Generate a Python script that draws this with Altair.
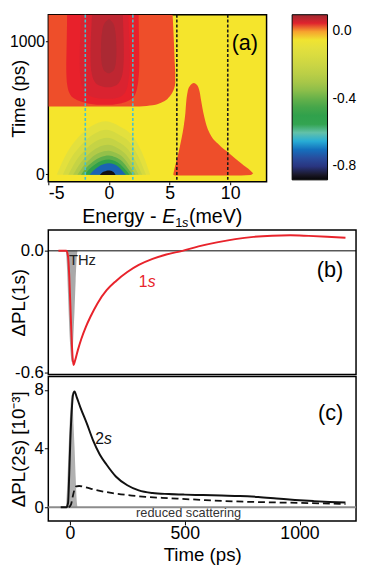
import altair as alt
import pandas as pd

FONT = "Liberation Sans"

# ================= Panel (a): contour map =================
E_TICKS = [-5, 0, 5, 10]
T_TICKS = [0, 1000]
CBAR_TICKS = [0.0, -0.4, -0.8]

LEVEL_VALUES = [-0.88, -0.86, -0.82, -0.76, -0.71, -0.67, -0.64, -0.60, -0.55, -0.48,
                -0.41, -0.34, -0.28, -0.22, -0.16, -0.10, -0.03, -0.01, 0.005, 0.015,
                0.04, 0.055, 0.07, 0.085, 0.10]
LEVEL_COLORS = ["#050505", "#111111", "#272C74", "#2A4798", "#1B63B3", "#0F96D6", "#3DB7D3",
                "#62C1A9", "#33A451", "#2FA04A", "#5DAE4A", "#94C04A", "#B2CA48", "#C5D345",
                "#D5DA41", "#E3E03D", "#F5E52C", "#F7D23A", "#F28A30", "#EE4E2A", "#E8212B",
                "#DA2330", "#BF2631", "#AB2933", "#9E2A30"]
BACKGROUND_FILL = "#F5E52C"

# positive (orange) region at late times, left of E ~ 5.4 meV
TOP_T = [510, 520, 535, 555, 580, 610, 645, 690, 760, 850, 950, 1050, 1150, 1200]
TOP_R = [2.5, 3.6, 4.2, 4.65, 4.95, 5.2, 5.38, 5.47, 5.47, 5.42, 5.38, 5.33, 5.28, 5.25]
TOP_V = 0.015

RED_T = [523, 530, 540, 555, 575, 610, 660, 730, 820, 920, 1020, 1120, 1200]
RED_L = [-1.0, -1.6, -2.05, -2.55, -2.95, -3.25, -3.42, -3.5, -3.52, -3.5, -3.48, -3.46, -3.45]
RED_R = [0.3, 0.8, 1.25, 1.65, 1.97, 2.2, 2.35, 2.45, 2.5, 2.5, 2.48, 2.46, 2.45]
RED_V = 0.04

DK1_T = [568, 580, 600, 640, 700, 780, 870, 970, 1070, 1200]
DK1_L = [-0.6, -1.3, -1.75, -2.1, -2.3, -2.4, -2.42, -2.4, -2.35, -2.3]
DK1_R = [0.3, 0.85, 1.2, 1.45, 1.6, 1.7, 1.72, 1.7, 1.65, 1.6]
DK1_V = 0.055

DK2_T = [655, 670, 700, 750, 820, 900, 1000, 1100, 1200]
DK2_L = [-0.3, -0.85, -1.2, -1.4, -1.5, -1.52, -1.5, -1.45, -1.4]
DK2_R = [0.15, 0.6, 0.9, 1.1, 1.2, 1.23, 1.22, 1.18, 1.15]
DK2_V = 0.07

DK3_T = [760, 775, 800, 850, 920, 1000, 1080, 1130, 1165]
DK3_L = [-0.1, -0.35, -0.5, -0.62, -0.66, -0.64, -0.55, -0.4, -0.05]
DK3_R = [0.05, 0.32, 0.48, 0.58, 0.62, 0.6, 0.52, 0.38, 0.05]
DK3_V = 0.085

# orange lobe at E ~ 5-12 meV
SIDE_E = [5.3, 5.45, 5.65, 5.83, 5.99, 6.17, 6.3, 6.38, 6.49, 6.7, 7.0, 7.3, 7.48, 7.61, 7.8,
          8.06, 8.4, 9.06, 9.98, 10.9, 11.7, 11.9]
SIDE_HI = [0, 60, 130, 201, 271, 364, 458, 551, 621, 668, 687, 668, 621, 551, 458, 364, 294,
           224, 154, 84, 26, 8]
SIDE_LO = [0, -8, -9, -9, -9, -9, -9, -9, -9, -9, -9, -9, -9, -9, -9, -9, -9, -9, -9, -8, -4, 8]
SIDE_V = 0.015

# negative bell around E = 0, t ~ 0 (outer -> inner)
BELL1_E = [-4.3, -3.65, -2.6, -1.4, -0.25, 0.9, 2.1, 2.88, 3.4]
BELL1_T = [-3, 131, 271, 365, 400, 360, 271, 131, -3]
BELL2_E = [-3.8, -3.2, -2.25, -1.2, -0.2, 0.8, 1.85, 2.55, 3.05]
BELL2_T = [-3, 110, 225, 305, 335, 300, 225, 110, -3]
BELL3_E = [-3.35, -2.8, -1.95, -1.05, -0.15, 0.7, 1.6, 2.25, 2.75]
BELL3_T = [-3, 90, 185, 250, 275, 248, 185, 90, -3]
BELL4_E = [-2.95, -2.45, -1.7, -0.9, -0.1, 0.65, 1.4, 2.0, 2.45]
BELL4_T = [-3, 72, 150, 202, 222, 200, 150, 72, -3]
BELL5_E = [-2.6, -2.15, -1.5, -0.8, -0.05, 0.6, 1.25, 1.75, 2.2]
BELL5_T = [-3, 58, 120, 162, 178, 160, 120, 58, -3]
BELL6_E = [-2.3, -1.9, -1.3, -0.7, 0.0, 0.55, 1.1, 1.55, 1.95]
BELL6_T = [-3, 46, 96, 129, 142, 128, 96, 46, -3]
BELL7_E = [-2.0, -1.65, -1.15, -0.6, 0.0, 0.5, 0.95, 1.35, 1.7]
BELL7_T = [-3, 36, 75, 102, 112, 101, 75, 36, -3]
BELL8_E = [-1.6, -1.3, -0.9, -0.45, 0.0, 0.42, 0.8, 1.1, 1.4]
BELL8_T = [-3, 27, 56, 76, 84, 76, 56, 27, -3]
BELL9_E = [-0.75, -0.6, -0.4, -0.2, -0.05, 0.15, 0.3, 0.45, 0.55]
BELL9_T = [-5, 10, 21, 28, 30, 28, 21, 10, -5]
BELL_VALUES = [-0.10, -0.16, -0.22, -0.28, -0.34, -0.41, -0.48, -0.71, -0.86]

CYAN_E = [-1.95, 1.97]
BLACK_E = [5.6, 9.8]

# ================= Panel (b): Delta PL(1s) =================
PL1S_T = [-50, -15, -8, -3, 2, 7, 12, 16, 22, 35, 50, 70, 90, 120, 160, 200, 250, 300, 360,
          420, 490, 560, 640, 720, 800, 880, 960, 1040, 1120, 1200]
PL1S_V = [0, 0, -0.03, -0.12, -0.27, -0.42, -0.53, -0.565, -0.545, -0.49, -0.435, -0.375,
          -0.325, -0.26, -0.195, -0.15, -0.105, -0.07, -0.04, -0.018, 0.0, 0.022, 0.042,
          0.058, 0.069, 0.075, 0.077, 0.074, 0.07, 0.065]
THZ_T = [-17, -12, -7, -2, 3, 8, 12, 16, 20, 25, 30, 33]
THZ_B = [0, -0.1, -0.25, -0.4, -0.5, -0.55, -0.5, -0.4, -0.3, -0.15, -0.03, 0]

# ================= Panel (c): Delta PL(2s) =================
PL2S_T = [-40, -15, -8, -3, 2, 8, 14, 20, 30, 46, 74, 100, 130, 160, 200, 250, 300, 360, 430,
          500, 580, 660, 740, 820, 900, 980, 1060, 1130, 1200]
PL2S_V = [0, 0, 0.3, 2.2, 4.6, 6.6, 7.7, 7.9, 7.5, 6.8, 5.7, 4.6, 3.6, 2.9, 2.1, 1.5, 1.15,
          0.97, 0.9, 0.86, 0.83, 0.8, 0.77, 0.7, 0.6, 0.5, 0.42, 0.36, 0.32]
RED_SCAT_T = [-5, 5, 12, 20, 28, 40, 70, 116, 186, 270, 330, 434, 574, 714, 854, 994, 1100, 1200]
RED_SCAT_V = [0, 0.2, 0.7, 1.2, 1.42, 1.45, 1.35, 1.17, 0.96, 0.8, 0.71, 0.62, 0.5, 0.4, 0.34,
              0.3, 0.26, 0.22]
THZ_C = [0, 1.4, 3.4, 5.4, 6.9, 7.7, 7.0, 5.6, 4.2, 2.1, 0.4, 0]

B_TICKS_Y = [0.0, -0.6]
C_TICKS_Y = [0, 4, 8]
TIME_TICKS = [0, 500, 1000]

# ================= layout =================
W_A, H_A = 222, 170
W_B, H_B, H_C = 313, 147, 147

NEG_INT = "datum.value < 0 ? '-' + format(-datum.value, 'd') : format(datum.value, 'd')"
NEG_1F = "datum.value < 0 ? '-' + format(-datum.value, '.1f') : format(datum.value, '.1f')"

xa_scale = alt.Scale(domain=[-5, 13], nice=False, zero=False)
ya_scale = alt.Scale(domain=[-56, 1200], nice=False, zero=False)
xa_axis = alt.Axis(values=E_TICKS, title=None, labelExpr=NEG_INT, labelFontSize=18,
                   tickSize=3, labelPadding=0)
ya_axis = alt.Axis(values=T_TICKS, title="Time (ps)", labelExpr=NEG_INT, labelFontSize=16,
                   tickSize=3, labelPadding=1, titlePadding=0, minExtent=20, maxExtent=20,
                   titleFontSize=19, titleFontWeight="normal")
color_a = alt.Color(
    "v:Q",
    scale=alt.Scale(domain=LEVEL_VALUES, range=LEVEL_COLORS),
    legend=alt.Legend(title=None, orient="right", offset=26, direction="vertical",
                      type="gradient", gradientLength=H_A - 2, gradientThickness=36,
                      values=CBAR_TICKS, labelExpr=NEG_1F, labelFontSize=14, labelOffset=5,
                      labelFont=FONT, labelColor="black", gradientStrokeColor="black",
                      gradientStrokeWidth=1, padding=0),
)


def hband(t, left, right, v):
    df = pd.DataFrame({"t": t, "l": left, "r": right, "v": [v] * len(t)})
    return alt.Chart(df).mark_area(orient="horizontal", interpolate="monotone", clip=True).encode(
        y=alt.Y("t:Q", scale=ya_scale, axis=ya_axis),
        x=alt.X("l:Q", scale=xa_scale, axis=xa_axis),
        x2="r:Q",
        color=color_a,
    )


def bell(e, t, v, base):
    df = pd.DataFrame({"E": e, "t": t, "v": [v] * len(e)})
    return alt.Chart(df).mark_area(interpolate="monotone", clip=True).encode(
        x=alt.X("E:Q", scale=xa_scale, axis=xa_axis),
        y=alt.Y("t:Q", scale=ya_scale, axis=ya_axis),
        y2=alt.datum(base),
        color=color_a,
    )


top_df = pd.DataFrame({"t": TOP_T, "r": TOP_R, "v": [TOP_V] * len(TOP_T)})
top_layer = alt.Chart(top_df).mark_area(orient="horizontal", interpolate="monotone", clip=True).encode(
    y=alt.Y("t:Q", scale=ya_scale, axis=ya_axis),
    x=alt.X("r:Q", scale=xa_scale, axis=xa_axis),
    x2=alt.datum(-5),
    color=color_a,
)

side_df = pd.DataFrame({"E": SIDE_E, "lo": SIDE_LO, "hi": SIDE_HI, "v": [SIDE_V] * len(SIDE_E)})
side_layer = alt.Chart(side_df).mark_area(interpolate="monotone", clip=True).encode(
    x=alt.X("E:Q", scale=xa_scale, axis=xa_axis),
    y=alt.Y("lo:Q", scale=ya_scale, axis=ya_axis),
    y2="hi:Q",
    color=color_a,
)

bells = [
    bell(BELL1_E, BELL1_T, BELL_VALUES[0], -3),
    bell(BELL2_E, BELL2_T, BELL_VALUES[1], -3),
    bell(BELL3_E, BELL3_T, BELL_VALUES[2], -3),
    bell(BELL4_E, BELL4_T, BELL_VALUES[3], -3),
    bell(BELL5_E, BELL5_T, BELL_VALUES[4], -3),
    bell(BELL6_E, BELL6_T, BELL_VALUES[5], -3),
    bell(BELL7_E, BELL7_T, BELL_VALUES[6], -3),
    bell(BELL8_E, BELL8_T, BELL_VALUES[7], -3),
    bell(BELL9_E, BELL9_T, BELL_VALUES[8], -5),
]

cyan_rules = alt.Chart(pd.DataFrame({"E": CYAN_E})).mark_rule(
    color="#45C1D0", strokeDash=[3, 2], strokeWidth=1.6).encode(
    x=alt.X("E:Q", scale=xa_scale, axis=xa_axis))
black_rules = alt.Chart(pd.DataFrame({"E": BLACK_E})).mark_rule(
    color="#1a1a1a", strokeDash=[3, 2], strokeWidth=1.6).encode(
    x=alt.X("E:Q", scale=xa_scale, axis=xa_axis))


def label_text(txt, **mark):
    return alt.Chart(pd.DataFrame({"label": [txt]})).mark_text(font=FONT, **mark)


a_tag = label_text("(a)", align="right", baseline="alphabetic", fontSize=22, color="black").encode(
    text="label:N", x=alt.datum(12.3), y=alt.datum(935))

C = W_A / 2
YT = H_A + 42
title_parts = [
    label_text("Energy -", align="right", baseline="alphabetic", fontSize=20, color="black").encode(
        text="label:N", x=alt.value(C - 1), y=alt.value(YT)),
    label_text("E", align="left", baseline="alphabetic", fontSize=20, fontStyle="italic",
               color="black").encode(text="label:N", x=alt.value(C + 5), y=alt.value(YT)),
    label_text("1", align="left", baseline="alphabetic", fontSize=13, color="black").encode(
        text="label:N", x=alt.value(C + 18), y=alt.value(YT + 4)),
    label_text("s", align="left", baseline="alphabetic", fontSize=13, fontStyle="italic",
               color="black").encode(text="label:N", x=alt.value(C + 25), y=alt.value(YT + 4)),
    label_text("(meV)", align="left", baseline="alphabetic", fontSize=20, color="black").encode(
        text="label:N", x=alt.value(C + 32), y=alt.value(YT)),
]

panel_a = alt.layer(
    top_layer,
    hband(RED_T, RED_L, RED_R, RED_V),
    hband(DK1_T, DK1_L, DK1_R, DK1_V),
    hband(DK2_T, DK2_L, DK2_R, DK2_V),
    hband(DK3_T, DK3_L, DK3_R, DK3_V),
    side_layer,
    *bells,
    cyan_rules,
    black_rules,
    a_tag,
    *title_parts,
).properties(width=W_A, height=H_A,
             view=alt.ViewBackground(fill=BACKGROUND_FILL, stroke="black", strokeWidth=1.5))

# ================= Panel (b) =================
xt_scale = alt.Scale(domain=[-94, 1246], nice=False, zero=False)
yb_scale = alt.Scale(domain=[-0.612, 0.103], nice=False, zero=False)
yb_axis = alt.Axis(values=B_TICKS_Y, labelExpr=NEG_1F, title="ΔPL(1s)", labelFontSize=17,
                   tickSize=4, labelPadding=1, titlePadding=0, minExtent=20, maxExtent=20,
                   titleFontSize=19, titleFontWeight="normal")

thz_b = alt.Chart(pd.DataFrame({"t": THZ_T, "v": THZ_B})).mark_area(
    color="#A9A9A9", interpolate="monotone").encode(
    x=alt.X("t:Q", scale=xt_scale, axis=None),
    y=alt.Y("v:Q", scale=yb_scale, axis=yb_axis),
    y2=alt.datum(0))
zero_b = alt.Chart(pd.DataFrame({"v": [0.0]})).mark_rule(color="black", strokeWidth=1).encode(
    y=alt.Y("v:Q", scale=yb_scale, axis=yb_axis))
line_1s = alt.Chart(pd.DataFrame({"t": PL1S_T, "v": PL1S_V})).mark_line(
    color="#E8232B", strokeWidth=2, interpolate="monotone").encode(
    x=alt.X("t:Q", scale=xt_scale, axis=None),
    y=alt.Y("v:Q", scale=yb_scale, axis=yb_axis))
thz_txt = label_text("THz", align="left", baseline="alphabetic", fontSize=15, color="#222222").encode(
    text="label:N", x=alt.datum(-4), y=alt.datum(-0.072))
one_txt = label_text("1", align="left", baseline="alphabetic", fontSize=16, color="#E8232B").encode(
    text="label:N", x=alt.datum(300), y=alt.datum(-0.178))
s1_txt = label_text("s", align="left", baseline="alphabetic", fontSize=16, fontStyle="italic",
                    color="#E8232B", dx=9).encode(
    text="label:N", x=alt.datum(300), y=alt.datum(-0.178))
b_tag = label_text("(b)", align="right", baseline="alphabetic", fontSize=22, color="black").encode(
    text="label:N", x=alt.datum(1190), y=alt.datum(-0.128))

panel_b = alt.layer(thz_b, zero_b, line_1s, thz_txt, one_txt, s1_txt, b_tag).properties(
    width=W_B, height=H_B, view=alt.ViewBackground(fill="white", stroke="black", strokeWidth=1.5))

# ================= Panel (c) =================
yc_scale = alt.Scale(domain=[-0.94, 8.92], nice=False, zero=False)
yc_axis = alt.Axis(values=C_TICKS_Y, labelExpr=NEG_INT, title="ΔPL(2s) [10⁻³]", labelFontSize=17,
                   tickSize=4, labelPadding=1, titlePadding=0, minExtent=20, maxExtent=20,
                   titleFontSize=19, titleFontWeight="normal")
xc_axis = alt.Axis(values=TIME_TICKS, labelExpr=NEG_INT, title="Time (ps)", labelFontSize=18,
                   tickSize=4, labelPadding=0, titlePadding=3, titleFontSize=19,
                   titleFontWeight="normal")

thz_c = alt.Chart(pd.DataFrame({"t": THZ_T, "v": THZ_C})).mark_area(
    color="#B0B0B0", interpolate="monotone").encode(
    x=alt.X("t:Q", scale=xt_scale, axis=xc_axis),
    y=alt.Y("v:Q", scale=yc_scale, axis=yc_axis),
    y2=alt.datum(0))
zero_c = alt.Chart(pd.DataFrame({"v": [0.0]})).mark_rule(color="#8C8C8C", strokeWidth=2).encode(
    y=alt.Y("v:Q", scale=yc_scale, axis=yc_axis))
line_2s = alt.Chart(pd.DataFrame({"t": PL2S_T, "v": PL2S_V})).mark_line(
    color="#111111", strokeWidth=2, interpolate="monotone").encode(
    x=alt.X("t:Q", scale=xt_scale, axis=xc_axis),
    y=alt.Y("v:Q", scale=yc_scale, axis=yc_axis))
line_red = alt.Chart(pd.DataFrame({"t": RED_SCAT_T, "v": RED_SCAT_V})).mark_line(
    color="#111111", strokeWidth=1.8, strokeDash=[7, 4], interpolate="monotone").encode(
    x=alt.X("t:Q", scale=xt_scale, axis=xc_axis),
    y=alt.Y("v:Q", scale=yc_scale, axis=yc_axis))
two_txt = label_text("2", align="left", baseline="alphabetic", fontSize=16, color="#111111").encode(
    text="label:N", x=alt.datum(110), y=alt.datum(4.3))
s2_txt = label_text("s", align="left", baseline="alphabetic", fontSize=16, fontStyle="italic",
                    color="#111111", dx=9).encode(
    text="label:N", x=alt.datum(110), y=alt.datum(4.3))
c_tag = label_text("(c)", align="right", baseline="alphabetic", fontSize=22, color="black").encode(
    text="label:N", x=alt.datum(1190), y=alt.datum(5.97))
rs_txt = label_text("reduced scattering", align="center", baseline="alphabetic", fontSize=13,
                    color="#333333").encode(
    text="label:N", x=alt.datum(517), y=alt.datum(-0.66))

panel_c = alt.layer(thz_c, zero_c, line_red, line_2s, two_txt, s2_txt, c_tag, rs_txt).properties(
    width=W_B, height=H_C, view=alt.ViewBackground(fill="white", stroke="black", strokeWidth=1.5))

# spacer between (a) and (b) to hold the energy axis
spacer = alt.Chart(pd.DataFrame({"z": [0]})).mark_point(opacity=0).encode(
    x=alt.X("z:Q", axis=None), y=alt.Y("z:Q", axis=None)
).properties(width=W_B, height=45, view=alt.ViewBackground(stroke="transparent"))

chart = alt.vconcat(
    panel_a, spacer, panel_b, panel_c, spacing=2, bounds="flush", padding=0
).resolve_scale(color="independent").configure_axis(
    labelFont=FONT, titleFont=FONT, labelColor="black", titleColor="black",
    tickColor="black", tickWidth=1, domain=False, grid=False, titleFontWeight="normal"
).configure_view(stroke="black", strokeWidth=1.5)

chart.save("out.html", embed_options={"renderer": "svg", "actions": False})
